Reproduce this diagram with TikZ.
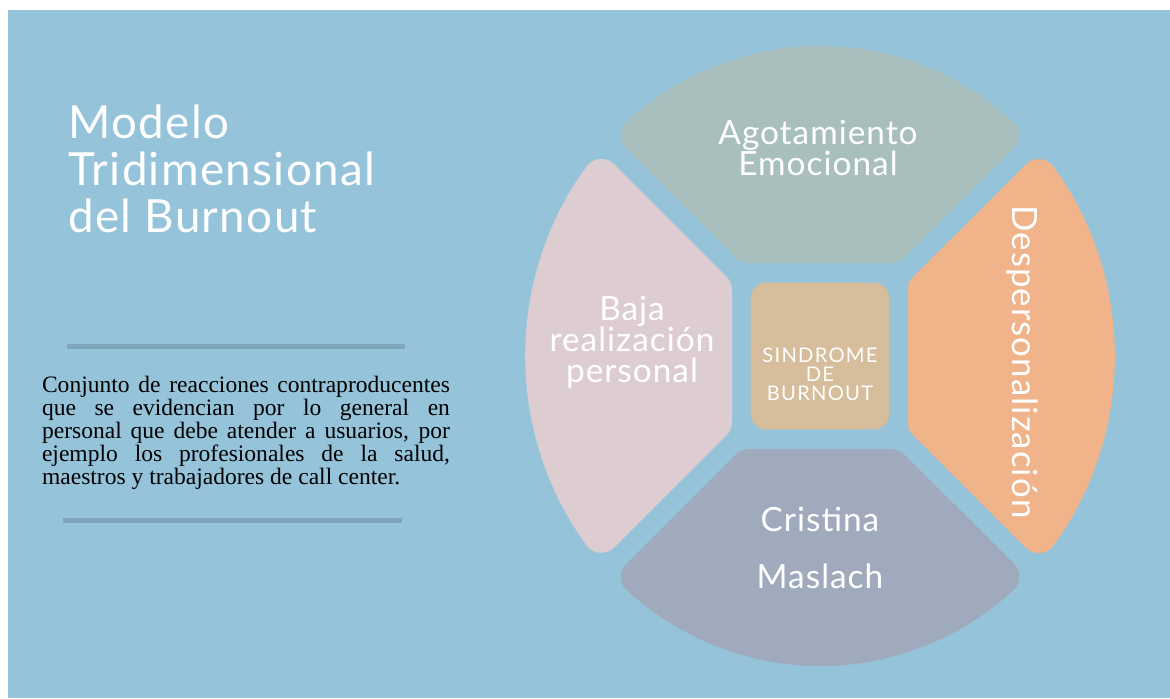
\documentclass[tikz,border=0pt]{standalone}
\usepackage{fontspec}
\setmainfont{Lato}
\newfontfamily\bodyfont{Liberation Serif}
\newfontfamily\capsfont[LetterSpace=6]{Lato}
\newfontfamily\headfont[LetterSpace=3]{Lato}
\usepackage{tikz}
\usepackage{xcolor}
\usetikzlibrary{positioning, calc}
\definecolor{burnoutSky}{HTML}{95C4DA}
\definecolor{burnoutRule}{HTML}{7EA5BA}
\definecolor{burnoutSage}{HTML}{A8BFBD}
\definecolor{burnoutRose}{HTML}{DDCDD1}
\definecolor{burnoutPeach}{HTML}{F1B38A}
\definecolor{burnoutSlate}{HTML}{A0AABD}
\definecolor{burnoutSand}{HTML}{D6BD9C}
\tikzstyle{petal} = [line width=0.72cm, line join=round]
\tikzstyle{petaltext} = [text=white, align=center, inner sep=0, font=\headfont\fontsize{19}{17.6}\selectfont]
\tikzstyle{core} = [rectangle, rounded corners=0.32cm, minimum width=2.78cm, minimum height=2.94cm, fill=burnoutSand]
\tikzstyle{divider} = [line width=0.1cm, draw=burnoutRule]

\begin{document}
\begin{tikzpicture}[x=0.02cm, y=0.02cm]

% Background
\useasboundingbox (0,0) rectangle (1170,698);
\fill[white] (0,0) rectangle (1170,698);
\fill[burnoutSky] (8,0) rectangle (1170,688);

% Left column
\node (title) [anchor=north west, align=left, text=white, inner sep=0, font=\headfont\fontsize{26}{26.6}\selectfont] at (68,593) {Modelo\\Tridimensional\\del Burnout};
\draw [divider] (67,352) -- (405,352);
\node (blurb) [text width=8.16cm, align=justify, inner sep=0, font=\bodyfont\fontsize{13.4}{11.9}\selectfont] at (246,265) {Conjunto de reacciones contraproducentes\linebreak que se evidencian por lo general en\linebreak personal que debe atender a usuarios, por\linebreak ejemplo los profesionales de la salud,\linebreak maestros y trabajadores de call center.};
\draw [divider] (63,178) -- (402,178);

% Petals
\filldraw [petal, fill=burnoutSage, draw=burnoutSage] (748.6,453) -- (891.4,453) -- (1001.2,562.8) arc[start angle=49.1, end angle=130.9, x radius=277, y radius=292] -- cycle;
\filldraw [petal, fill=burnoutSlate, draw=burnoutSlate] (891.4,231) -- (748.6,231) -- (638.8,121.2) arc[start angle=229.1, end angle=310.9, x radius=277, y radius=292] -- cycle;
\filldraw [petal, fill=burnoutRose, draw=burnoutRose] (714,275.6) -- (714,408.4) -- (601.3,521.1) arc[start angle=142.2, end angle=217.8, x radius=277, y radius=292] -- cycle;
\filldraw [petal, fill=burnoutPeach, draw=burnoutPeach] (926,408.4) -- (926,275.6) -- (1038.7,162.9) arc[start angle=-37.8, end angle=37.8, x radius=277, y radius=292] -- cycle;

% Nodes
\node (hub) [core] at (820,342) {};
\node (sindrome) [text=white, align=center, inner sep=0, font=\capsfont\fontsize{11.5}{10.8}\selectfont] at (820,324) {SINDROME\\DE\\BURNOUT};
\node (agotamiento) [petaltext] at (818,550) {Agotamiento\\Emocional};
\node (baja) [petaltext] at (632,356) {Baja\\realización\\personal};
\node (desp) [petaltext, rotate=-90, font=\headfont\fontsize{19.8}{20}\selectfont] at (1022,336) {Despersonalización};
\node (maslach) [petaltext, font=\headfont\fontsize{19}{32}\selectfont] at (820,150) {Cristina\\Maslach};

\end{tikzpicture}
\end{document}
